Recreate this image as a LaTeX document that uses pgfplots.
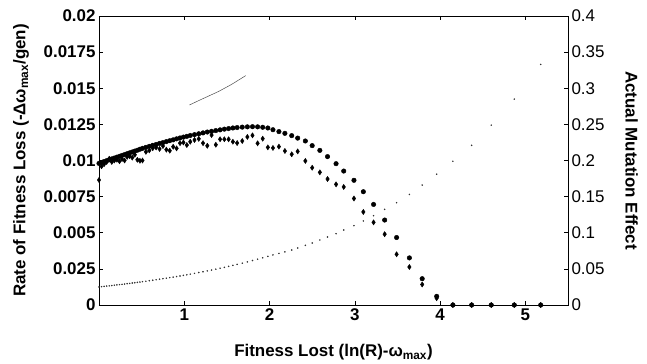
\documentclass[border=0pt]{standalone}
\usepackage{fontspec}
\setmainfont{Liberation Sans}
\usepackage{pgfplots}
\usepackage{pgfplotstable}
\pgfplotsset{compat=1.18}
\pgfplotstableread{
x     up       lo       mut
0.00  0.00980  0.00865  0.0250
0.03  0.00986  0.00960  0.0254
0.06  0.00993  0.00975  0.0258
0.09  0.00999  0.00990  0.0262
0.12  0.01005  0.01012  0.0265
0.15  0.01011  0.00990  0.0269
0.18  0.01017  0.01000  0.0274
0.21  0.01023  0.01005  0.0278
0.24  0.01029  0.00995  0.0282
0.27  0.01035  0.01010  0.0286
0.30  0.01041  0.01000  0.0290
0.33  0.01047  0.01025  0.0295
0.36  0.01053  0.01030  0.0299
0.39  0.01059  0.01020  0.0304
0.42  0.01065  0.01040  0.0308
0.45  0.01071  0.01005  0.0313
0.48  0.01078  0.00998  0.0318
0.51  0.01084  0.01000  0.0323
0.55  0.01091  0.01060  0.0329
0.59  0.01098  0.01070  0.0336
0.63  0.01105  0.01085  0.0343
0.67  0.01111  0.01090  0.0349
0.71  0.01118  0.01080  0.0357
0.75  0.01124  0.01100  0.0364
0.79  0.01131  0.01075  0.0371
0.83  0.01137  0.01068  0.0379
0.87  0.01143  0.01095  0.0386
0.91  0.01150  0.01084  0.0394
0.95  0.01156  0.01120  0.0402
0.99  0.01162  0.01125  0.0410
1.03  0.01167  0.01107  0.0418
1.07  0.01173  0.01130  0.0427
1.12  0.01179  0.01142  0.0438
1.17  0.01185  0.01150  0.0449
1.22  0.01191  0.01120  0.0460
1.27  0.01197  0.01102  0.0472
1.32  0.01202  0.01176  0.0484
1.37  0.01207  0.01109  0.0496
1.42  0.01212  0.01147  0.0509
1.47  0.01217  0.01147  0.0521
1.52  0.01221  0.01147  0.0535
1.57  0.01225  0.01130  0.0548
1.62  0.01228  0.01121  0.0562
1.68  0.01231  0.01135  0.0579
1.74  0.01233  0.01163  0.0597
1.80  0.01234  0.01174  0.0615
1.86  0.01233  0.01119  0.0634
1.92  0.01230  0.01151  0.0653
1.98  0.01225  0.01091  0.0673
2.04  0.01213  0.01087  0.0693
2.11  0.01200  0.01096  0.0714
2.18  0.01188  0.01066  0.0735
2.26  0.01172  0.01043  0.0761
2.33  0.01155  0.01063  0.0789
2.42  0.01135  0.00997  0.0826
2.50  0.01103  0.00950  0.0858
2.59  0.01070  0.00918  0.0900
2.68  0.01027  0.00872  0.0941
2.78  0.00978  0.00835  0.0987
2.87  0.00927  0.00817  0.1038
2.99  0.00863  0.00737  0.1098
3.10  0.00784  0.00644  0.1163
3.22  0.00696  0.00572  0.1236
3.35  0.00588  0.00490  0.1324
3.49  0.00467  0.00351  0.1416
3.64  0.00326  0.00263  0.1530
3.79  0.00182  0.00142  0.1660
3.96  0.00060  0.00047  0.1810
4.15  0        0        0.1990
4.37  0        0        0.2210
4.60  0        0        0.2490
4.87  0        0        0.2850
5.18  0        0        0.3330
}\datatab
\begin{document}
\begin{tikzpicture}
\path[use as bounding box] (-99bp,-59bp) rectangle (548bp,305bp);
\pgfplotsset{every axis/.append style={
  scale only axis, width=469bp, height=289bp, xmin=0, xmax=5.5,
  tick style={black, line width=0.6pt}, major tick length=4bp,
  tick align=inside, axis line style={line width=0.8pt},
  tick label style={font=\fontsize{17}{19}\selectfont\bfseries},
  /pgf/number format/assume math mode=true,
  scaled y ticks=false, clip=false}}
\begin{axis}[name=ax, at={(0,0)}, anchor=south west,
  ymin=0, ymax=0.02,
  xtick={1,2,3,4,5}, xticklabels={1,2,3,4,5}, xtick pos=both,
  ytick={0,0.0025,0.005,0.0075,0.01,0.0125,0.015,0.0175,0.02},
  yticklabels={0,0.025,0.005,0.0075,0.01,0.0125,0.015,0.0175,0.02},
  ytick pos=left,
  xlabel={Fitness Lost (ln(R)-ω\textsubscript{max})},
  ylabel={Rate of Fitness Loss (-Δω\textsubscript{max}/gen)},
  every axis x label/.style={at={(axis description cs:0.5,-0.163)},anchor=center,font=\fontsize{17}{19}\selectfont\bfseries},
  every axis y label/.style={at={(axis description cs:-0.166,0.5)},rotate=90,anchor=center,font=\fontsize{17}{19}\selectfont\bfseries},
]
\addplot[only marks, mark=*, mark size=2.3pt, black] table[x=x,y=up] {\datatab};
\addplot[only marks, mark=diamond*, mark size=2.6pt, mark options={xscale=0.9}, black] table[x=x,y=lo] {\datatab};
\addplot[black!70, line width=0.5pt] coordinates {(1.06,0.01384) (1.20,0.01423) (1.40,0.01477) (1.55,0.01525) (1.72,0.01587)};
\end{axis}
\begin{axis}[at={(0,0)}, anchor=south west,
  axis x line=none, axis y line*=right,
  ymin=0, ymax=0.4,
  ytick={0,0.05,0.1,0.15,0.2,0.25,0.3,0.35,0.4},
  yticklabels={0,0.05,0.1,0.15,0.2,0.25,0.3,0.35,0.4},
  yticklabel style={font=\fontsize{17}{19}\selectfont},
  ylabel={Actual Mutation Effect},
  every axis y label/.style={at={(axis description cs:1.136,0.5)},rotate=-90,anchor=center,font=\fontsize{17}{19}\selectfont\bfseries},
]
\addplot[only marks, mark=*, mark size=0.55pt, black!80] table[x=x,y=mut] {\datatab};
\end{axis}
\end{tikzpicture}
\end{document}
